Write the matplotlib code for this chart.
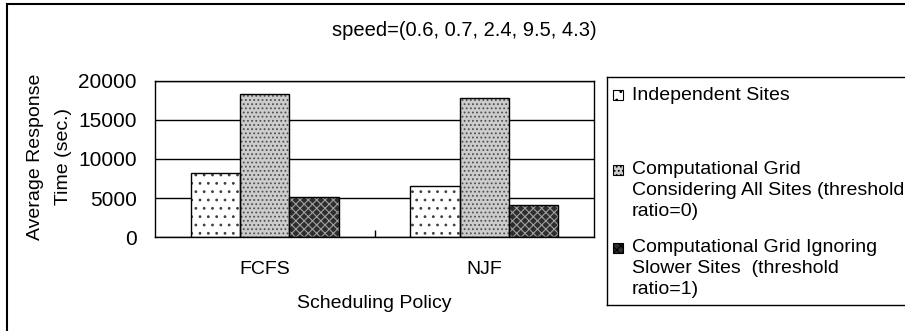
import matplotlib
matplotlib.use("Agg")
import matplotlib.pyplot as plt
from matplotlib.patches import Rectangle
from matplotlib.lines import Line2D
import numpy as np

plt.rcParams['font.family'] = ['Liberation Sans', 'DejaVu Sans']
plt.rcParams['font.size'] = 14
plt.rcParams['hatch.linewidth'] = 0.8

# data
policies = ["FCFS", "NJF"]
series = ["Independent Sites",
          "Computational Grid\nConsidering All Sites (threshold\nratio=0)",
          "Computational Grid Ignoring\nSlower Sites  (threshold\nratio=1)"]
independent = [8150, 6550]
grid_all = [18300, 17850]
grid_ignore = [5150, 4070]
yticks = [0, 5000, 10000, 15000, 20000]
ylabel_lines = ["Average Response", "Time (sec.)"]

# styles: (face, hatch, hatch colour)
styles = [("white", "..", "#404040"),
          ("#cccccc", "....", "#505050"),
          ("#2e2e2e", "xxxx", "#a0a0a0")]

W, H = 905, 331
fig = plt.figure(figsize=(W/100, H/100), dpi=100)
ax = fig.add_axes([155/W, 1 - 237.3/H, (594-155)/W, (237.3-80.7)/H])

x = np.arange(len(policies))
w = 0.224
values = [independent, grid_all, grid_ignore]
for i, (vals, (fc, hatch, hc)) in enumerate(zip(values, styles)):
    pos = x + (i - 1) * w
    ax.bar(pos, vals, w, color=fc, hatch=hatch, edgecolor=hc, linewidth=0, zorder=2)
    ax.bar(pos, vals, w, fill=False, edgecolor="black", linewidth=1.0, zorder=3)

ax.set_xlim(-0.5, 1.5)
ax.set_ylim(0, 20000)
ax.set_yticks(yticks)
ax.set_yticklabels([str(v) for v in yticks], fontsize=15)
ax.tick_params(axis='y', length=0, pad=13)
ax.set_xticks(x)
ax.set_xticklabels(policies, fontsize=14)
ax.tick_params(axis='x', length=0, pad=17)
ax.set_xticks([0.5], minor=True)
ax.tick_params(axis='x', which='minor', direction='in', length=5, width=1, color='black')
ax.grid(axis='y', color='black', linewidth=1.0, zorder=1)
ax.set_axisbelow(True)
for s in ax.spines.values():
    s.set_color('black')
    s.set_linewidth(1.0)

fig.text(374/W, 1 - 303/H, "Scheduling Policy", ha='center', va='center', fontsize=14)
for xpix, line in zip([36, 63], ylabel_lines):
    fig.text(xpix/W, 1 - 157/H, line, ha='center', va='center', rotation=90, fontsize=14)
fig.text(464/W, 1 - 30/H, "speed=(0.6, 0.7, 2.4, 9.5, 4.3)", ha='center', va='center', fontsize=14.5)

# legend box drawn by hand so the entries sit like the original
lx0, ly0, ly1 = 607, 77, 305
lax = fig.add_axes([lx0/W, 1 - ly1/H, (W + 20 - lx0)/W, (ly1 - ly0)/H])
lax.set_xlim(lx0, W + 20)
lax.set_ylim(ly1, ly0)
lax.set_xticks([])
lax.set_yticks([])
for s in lax.spines.values():
    s.set_linewidth(1.0)
    s.set_color('black')
first_line = [95, 170, 248]
line_gap = 20.5
for label, y0, (fc, hatch, hc) in zip(series, first_line, styles):
    lax.add_patch(Rectangle((613, y0 - 5), 10, 10, facecolor=fc, hatch=hatch,
                            edgecolor='black', linewidth=0.8))
    for k, line in enumerate(label.split("\n")):
        lax.text(632, y0 + k * line_gap, line, ha='left', va='center', fontsize=14)

# outer chart border
fig.add_artist(Line2D([7/W, 7/W], [0, 1 - 4/H], color='black', linewidth=1.5))
fig.add_artist(Line2D([7/W, 1], [1 - 4/H, 1 - 4/H], color='black', linewidth=1.5))

fig.savefig("out.png", dpi=100)
